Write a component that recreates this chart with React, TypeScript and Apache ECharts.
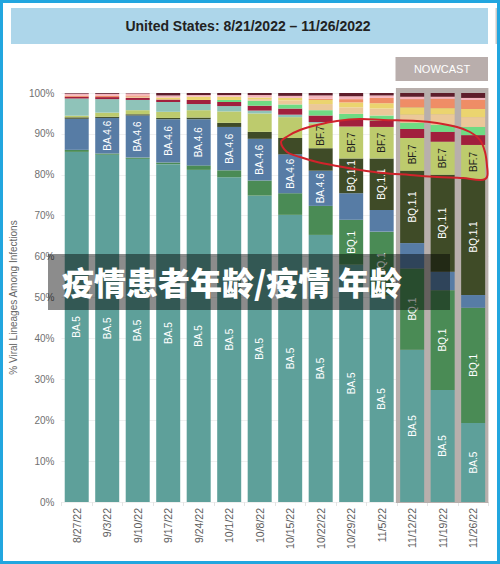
import React, { useEffect, useRef } from "react";
import * as echarts from "echarts";

// Week-ending dates
const weeks = [
  "8/27/22", "9/3/22", "9/10/22", "9/17/22", "9/24/22", "10/1/22", "10/8/22",
  "10/15/22", "10/22/22", "10/29/22", "11/5/22", "11/12/22", "11/19/22", "11/26/22",
];

// Lineage shares (% of infections), stacked bottom to top
const ba5 = [85.6, 84.9, 83.9, 82.6, 81.2, 79.4, 74.9, 70.2, 65.3, 58.0, 50.4, 37.2, 27.4, 19.3];
const bq1 = [0.5, 0.3, 0.3, 0.4, 1.1, 1.7, 3.7, 5.3, 7.1, 11.0, 15.7, 19.9, 24.4, 28.2];
const ba46 = [7.6, 8.7, 10.3, 10.6, 11.3, 10.6, 10.2, 9.5, 8.6, 6.5, 5.3, 6.2, 4.5, 3.1];
const bq11 = [0.35, 0.3, 0.3, 0.3, 0.4, 1.0, 1.7, 4.0, 5.5, 8.5, 12.6, 17.7, 23.7, 28.4];
const bf7 = [0.4, 1.0, 1.0, 1.5, 1.8, 2.8, 4.5, 5.1, 6.1, 7.8, 7.7, 8.0, 8.1, 8.3];
const ba4 = [4.2, 3.3, 2.5, 2.4, 1.5, 1.3, 0.7, 0.6, 0.3, 0, 0, 0, 0, 0];
const ba275 = [0.4, 0.5, 0.5, 0.6, 1.0, 1.0, 1.2, 1.5, 1.6, 1.6, 1.5, 2.2, 2.4, 2.4];
const bn1 = [0, 0, 0, 0, 0, 0.5, 1.2, 1.0, 1.3, 1.5, 1.3, 1.5, 1.7, 2.0];
const ba2752 = [0, 0, 0.3, 0, 0, 0, 0.4, 1.0, 1.5, 1.6, 1.7, 2.0, 2.6, 2.4];
const bf11 = [0, 0, 0, 0.5, 0.8, 0.8, 0.4, 0.6, 1.0, 1.2, 1.3, 1.8, 1.5, 2.0];
const xbb = [0.3, 0.3, 0.3, 0, 0, 0, 0, 0, 0.3, 0.8, 1.3, 2.0, 2.3, 2.2];
const ba41 = [0.5, 0.5, 0.5, 0.5, 0.4, 0.4, 0.6, 0.5, 0.8, 0.7, 0.6, 0.6, 0.5, 0.5];
const other = [0.15, 0.2, 0.1, 0.6, 0.5, 0.5, 0.5, 0.7, 0.6, 0.8, 0.6, 0.9, 0.9, 1.2];

// Weeks whose segment carries an in-bar lineage label
const labelWeeks: Record<string, string[]> = {
  "BA.5": weeks,
  "BQ.1": ["10/29/22", "11/5/22", "11/12/22", "11/19/22", "11/26/22"],
  "BA.4.6": ["9/3/22", "9/10/22", "9/17/22", "9/24/22", "10/1/22", "10/8/22", "10/15/22", "10/22/22"],
  "BQ.1.1": ["10/29/22", "11/5/22", "11/12/22", "11/19/22", "11/26/22"],
  "BF.7": ["10/22/22", "10/29/22", "11/5/22", "11/12/22", "11/19/22", "11/26/22"],
};

const lineages = [
  { name: "BA.5", values: ba5, color: "#5ea09a", labelColor: "#ffffff" },
  { name: "BQ.1", values: bq1, color: "#4a8b55", labelColor: "#ffffff" },
  { name: "BA.4.6", values: ba46, color: "#577ca5", labelColor: "#ffffff" },
  { name: "BQ.1.1", values: bq11, color: "#3f4b27", labelColor: "#ffffff" },
  { name: "BF.7", values: bf7, color: "#bdcb6d", labelColor: "#1f1f1f" },
  { name: "BA.4", values: ba4, color: "#8fc3b9", labelColor: "#ffffff" },
  { name: "BA.2.75", values: ba275, color: "#a11f3d", labelColor: "#ffffff" },
  { name: "BN.1", values: bn1, color: "#6fdb83", labelColor: "#ffffff" },
  { name: "BA.2.75.2", values: ba2752, color: "#ebc899", labelColor: "#ffffff" },
  { name: "BF.11", values: bf11, color: "#ebd46f", labelColor: "#ffffff" },
  { name: "XBB", values: xbb, color: "#ef8d66", labelColor: "#ffffff" },
  { name: "BA.4.1", values: ba41, color: "#f5b5bd", labelColor: "#ffffff" },
  { name: "Other", values: other, color: "#5e1d2b", labelColor: "#ffffff" },
];

const FONT = "Liberation Sans, Arial, sans-serif";

// Hand-drawn loop around the BF.7 segments
const loopPoints = [
  [281, 142], [288, 136], [300, 130], [317, 125], [337, 121], [360, 119], [383, 120],
  [417, 121], [437, 123], [457, 127], [470, 132], [480, 140], [485, 152], [487, 166],
  [487, 177], [481, 180], [463, 178], [437, 177], [410, 175], [383, 173], [360, 170],
  [337, 166], [317, 162], [300, 157], [287, 152],
];

export default function App() {
  const ref = useRef<HTMLDivElement>(null);

  useEffect(() => {
    const chart = echarts.init(ref.current!, null, { renderer: "svg" });

    const series = lineages.map((l) => ({
      name: l.name,
      type: "bar",
      stack: "total",
      barWidth: 24,
      z: 2,
      itemStyle: { color: l.color },
      emphasis: { disabled: true },
      label: {
        show: false,
        position: "inside",
        rotate: 90,
        color: l.labelColor,
        fontSize: 10,
        fontFamily: FONT,
        formatter: l.name,
      },
      data: l.values.map((v, i) => ({
        value: v,
        label: { show: (labelWeeks[l.name] || []).includes(weeks[i]) },
      })),
    }));

    chart.setOption({
      animation: false,
      backgroundColor: "#ffffff",
      grid: { left: 56.6, right: 11.6, top: 93, bottom: 62, containLabel: false },
      xAxis: {
        type: "category",
        data: weeks,
        axisLine: { show: true, lineStyle: { color: "#eeeeee" } },
        axisTick: { show: true, length: 4, lineStyle: { color: "#e4e4e4" } },
        axisLabel: {
          rotate: 90,
          interval: 0,
          margin: 6,
          color: "#5c5c5c",
          fontSize: 10.5,
          fontFamily: FONT,
        },
      },
      yAxis: {
        type: "value",
        min: 0,
        max: 100,
        interval: 10,
        axisLine: { show: false },
        axisTick: { show: false },
        splitLine: { lineStyle: { color: "#f0f0f0" } },
        axisLabel: {
          formatter: "{value}%",
          color: "#707070",
          fontSize: 10,
          fontFamily: FONT,
          margin: 7,
        },
        name: "% Viral Lineages Among Infections",
        nameLocation: "middle",
        nameRotate: 90,
        nameGap: 40,
        nameTextStyle: { color: "#666666", fontSize: 10, fontFamily: FONT },
      },
      series,
      graphic: [
        // nowcast shading behind the last three weeks
        {
          type: "rect",
          z: 1,
          shape: { x: 395.9, y: 88, width: 92.5, height: 415 },
          style: { fill: "#b8afac" },
        },
        // title banner
        {
          type: "rect",
          z: 5,
          shape: { x: 11, y: 8, width: 477, height: 36 },
          style: { fill: "#add6ea" },
        },
        {
          type: "text",
          z: 6,
          x: 248,
          y: 26,
          style: {
            text: "United States: 8/21/2022 \u2013 11/26/2022",
            fill: "#222222",
            font: `bold 14px ${FONT}`,
            textAlign: "center",
            textVerticalAlign: "middle",
          },
        },
        {
          type: "rect",
          z: 5,
          shape: { x: 495.5, y: 8, width: 2, height: 36 },
          style: { fill: "#c9c9c9" },
        },
        // NOWCAST tag
        {
          type: "rect",
          z: 5,
          shape: { x: 395.5, y: 57, width: 92.5, height: 24 },
          style: { fill: "#b9aeac" },
        },
        {
          type: "text",
          z: 6,
          x: 442,
          y: 69,
          style: {
            text: "NOWCAST",
            fill: "#ffffff",
            font: `11px ${FONT}`,
            textAlign: "center",
            textVerticalAlign: "middle",
          },
        },
        // caption band
        {
          type: "rect",
          z: 20,
          shape: { x: 48, y: 254, width: 402, height: 56 },
          style: { fill: "rgba(0,0,0,0.45)" },
        },
        {
          type: "text",
          z: 21,
          x: 62,
          y: 281,
          style: {
            text: "疫情患者年龄/疫情 年龄",
            fill: "#ffffff",
            font: `900 32px "Noto Sans CJK SC", sans-serif`,
            textAlign: "left",
            textVerticalAlign: "middle",
          },
        },
        // red loop
        {
          type: "polygon",
          z: 22,
          shape: { points: loopPoints, smooth: 0.35 },
          style: { fill: "none", stroke: "#d0232b", lineWidth: 2 },
        },
        // frame
        {
          type: "rect",
          z: 30,
          shape: { x: 1.5, y: 1.5, width: 497, height: 561 },
          style: { fill: "none", stroke: "#22a6df", lineWidth: 3 },
        },
      ],
    });

    return () => chart.dispose();
  }, []);

  return (
    <div
      ref={ref}
      style={{ position: "fixed", left: 0, top: 0, width: 500, height: 564 }}
    />
  );
}
